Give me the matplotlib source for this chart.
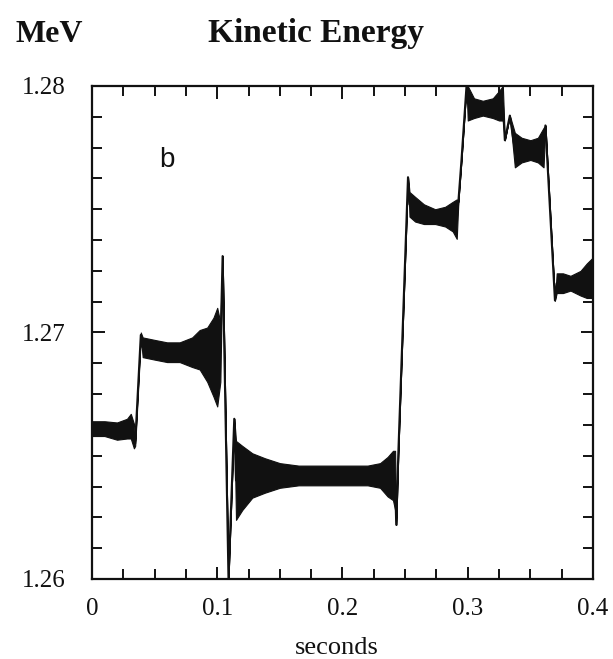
import matplotlib

matplotlib.use("Agg")
import matplotlib.pyplot as plt
from matplotlib.ticker import MultipleLocator, FixedLocator, FixedFormatter

INK = "#111111"
SERIF = "Liberation Serif"

# Trace: time (s), mean kinetic energy (MeV) and the
# half-width of the dense oscillation band around it (MeV).
t_s = [
    0.000, 0.010, 0.020, 0.028, 0.031, 0.0335, 0.0345,
    0.039, 0.0405, 0.050, 0.060, 0.070, 0.080, 0.086, 0.092, 0.097, 0.100, 0.1025,
    0.1043, 0.1090, 0.1136,
    0.115, 0.120, 0.128, 0.138, 0.150, 0.165, 0.181, 0.200, 0.220, 0.230, 0.236, 0.2403, 0.2420,
    0.2429, 0.2445, 0.2523,
    0.2535, 0.258, 0.265, 0.274, 0.282, 0.288, 0.2912,
    0.2925, 0.2950, 0.2990,
    0.3000, 0.305, 0.312, 0.320, 0.325, 0.3280,
    0.3296, 0.3336,
    0.3376, 0.343, 0.350, 0.356, 0.3605,
    0.3620, 0.3696,
    0.371, 0.376, 0.382, 0.390, 0.395, 0.3990,
]
energy_mev = [
    1.2661, 1.2661, 1.2660, 1.2661, 1.2662, 1.2658, 1.2655,
    1.2699, 1.2694, 1.2693, 1.2692, 1.2692, 1.2692, 1.2693, 1.2691, 1.2690, 1.2690, 1.2692,
    1.2731, 1.2600, 1.2665,
    1.2640, 1.2641, 1.2642, 1.2642, 1.2642, 1.2642, 1.2642, 1.2642, 1.2642, 1.2642, 1.26415, 1.2642, 1.2640,
    1.2622, 1.2650, 1.2763,
    1.2752, 1.2750, 1.2748, 1.2747, 1.2747, 1.2747, 1.2746,
    1.2753, 1.2770, 1.2800,
    1.2793, 1.2791, 1.2791, 1.2791, 1.2792, 1.2793,
    1.2778, 1.2788,
    1.2774, 1.2774, 1.2774, 1.2774, 1.2775,
    1.2784, 1.2713,
    1.2720, 1.2720, 1.2720, 1.2720, 1.2721, 1.2722,
]
band_half = [
    0.0003, 0.0003, 0.00035, 0.0004, 0.0005, 0.0005, 0.0001,
    0.0001, 0.0004, 0.0004, 0.0004, 0.0004, 0.0006, 0.0008, 0.0011, 0.0016, 0.0020, 0.0012,
    0.0, 0.0, 0.0,
    0.0016, 0.0013, 0.0009, 0.0007, 0.0005, 0.0004, 0.0004, 0.0004, 0.0004, 0.0005, 0.0008, 0.0010, 0.0012,
    0.0, 0.0, 0.0,
    0.0005, 0.0005, 0.0004, 0.0003, 0.0004, 0.0006, 0.0008,
    0.0, 0.0, 0.0,
    0.0007, 0.0004, 0.0003, 0.0004, 0.0006, 0.0007,
    0.0, 0.0,
    0.0007, 0.0005, 0.0004, 0.0005, 0.0008,
    0.0, 0.0,
    0.0004, 0.0004, 0.0003, 0.0005, 0.0007, 0.0008,
]

x_ticks = [0, 0.1, 0.2, 0.3, 0.4]
x_labels = ["0", "0.1", "0.2", "0.3", "0.4"]
y_ticks = [1.26, 1.27, 1.28]
y_labels = ["1.26", "1.27", "1.28"]

fig = plt.figure(figsize=(6.13, 6.59), dpi=100)
fig.patch.set_facecolor("white")
ax = fig.add_axes([0.150, 0.1214, 0.8174, 0.7481])

lower = [c - h for c, h in zip(energy_mev, band_half)]
upper = [c + h for c, h in zip(energy_mev, band_half)]
ax.fill_between(t_s, lower, upper, color=INK, linewidth=0.8, edgecolor=INK, zorder=3)
ax.plot(t_s, energy_mev, color=INK, linewidth=1.5, zorder=4)

ax.set_xlim(0, 0.4)
ax.set_ylim(1.26, 1.28)

ax.xaxis.set_major_locator(FixedLocator(x_ticks))
ax.xaxis.set_major_formatter(FixedFormatter(x_labels))
ax.yaxis.set_major_locator(FixedLocator(y_ticks))
ax.yaxis.set_major_formatter(FixedFormatter(y_labels))
ax.xaxis.set_minor_locator(MultipleLocator(0.025))
ax.yaxis.set_minor_locator(MultipleLocator(0.00125))

ax.tick_params(which="both", direction="in", top=True, right=True, color=INK, width=1.4)
ax.tick_params(which="major", length=9)
ax.tick_params(which="minor", length=7)
ax.tick_params(axis="y", which="major", pad=19, labelsize=18, labelcolor=INK)
ax.tick_params(axis="x", which="major", pad=14, labelsize=18, labelcolor=INK)
for lab in ax.get_xticklabels() + ax.get_yticklabels():
    lab.set_family(SERIF)

for spine in ax.spines.values():
    spine.set_linewidth(1.6)
    spine.set_color(INK)

ax.text(0.15, 0.85, "b", transform=ax.transAxes, fontsize=20, family="Liberation Sans",
        color=INK, ha="center", va="center")

fig.text(0.026, 0.936, "MeV", fontsize=23, fontweight="bold", family=SERIF, color=INK,
         ha="left", va="baseline")
fig.text(0.516, 0.936, "Kinetic Energy", fontsize=24, fontweight="bold", family=SERIF,
         color=INK, ha="center", va="baseline")
fig.text(0.549, 0.008, "seconds", fontsize=19, family=SERIF, color=INK,
         ha="center", va="baseline")

fig.savefig("out.png", dpi=100, facecolor="white")
plt.close(fig)
